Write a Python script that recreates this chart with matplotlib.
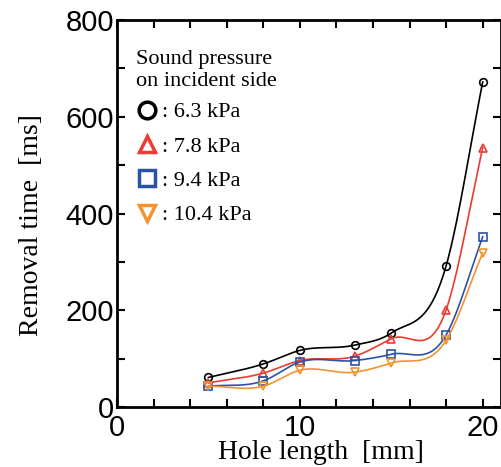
import numpy as np
import matplotlib.pyplot as plt
from matplotlib.lines import Line2D
from matplotlib.ticker import MultipleLocator

# data
hole_length = [5, 8, 10, 13, 15, 18, 20]
t_63 = [61, 89, 117, 128, 153, 292, 672]
t_78 = [50, 70, 96, 105, 141, 201, 536]
t_94 = [43, 54, 93, 96, 109, 149, 352]
t_104 = [43, 43, 76, 72, 91, 138, 319]

series = [t_63, t_78, t_94, t_104]
labels = [': 6.3 kPa', ': 7.8 kPa', ': 9.4 kPa', ': 10.4 kPa']
colors = ['#000000', '#ec3b32', '#2c52a6', '#f3932f']
markers = ['o', '^', 's', 'v']


def smooth(x, y, n=40):
    # cubic hermite through the points (catmull-rom like), only for drawing
    x = np.asarray(x, float)
    y = np.asarray(y, float)
    sec = np.diff(y) / np.diff(x)
    m = np.empty_like(y)
    m[0], m[-1] = sec[0], sec[-1]
    h = np.diff(x)
    m[1:-1] = (sec[:-1] * h[1:] + sec[1:] * h[:-1]) / (h[:-1] + h[1:])
    xs_all, ys_all = [], []
    for i in range(len(x) - 1):
        t = np.linspace(0, 1, n)
        h00 = 2 * t**3 - 3 * t**2 + 1
        h10 = t**3 - 2 * t**2 + t
        h01 = -2 * t**3 + 3 * t**2
        h11 = t**3 - t**2
        xs_all.append(x[i] + t * h[i])
        ys_all.append(h00 * y[i] + h10 * h[i] * m[i] + h01 * y[i + 1]
                      + h11 * h[i] * m[i + 1])
    return np.concatenate(xs_all), np.concatenate(ys_all)


fig = plt.figure(figsize=(5.02, 4.67), dpi=100)
ax = fig.add_axes([0.233, 0.1285, 0.765, 0.8285])

for ys, col, mk in zip(series, colors, markers):
    xs, ss = smooth(hole_length, ys)
    ax.plot(xs, ss, color=col, lw=1.2)
    ax.plot(hole_length, ys, ls='none', marker=mk, ms=5.5, mfc='none',
            mec=col, mew=1.2)

ax.set_xlim(0, 21)
ax.set_ylim(0, 800)
ax.xaxis.set_major_locator(MultipleLocator(10))
ax.xaxis.set_minor_locator(MultipleLocator(2))
ax.yaxis.set_major_locator(MultipleLocator(200))
ax.yaxis.set_minor_locator(MultipleLocator(100))
ax.tick_params(which='both', direction='in', top=True, right=True,
               length=5.5, width=1.5)
ax.tick_params(axis='x', pad=5)
ax.tick_params(axis='y', pad=2)
for lab in ax.get_xticklabels() + ax.get_yticklabels():
    lab.set_family('Liberation Sans')
    lab.set_fontsize(21)
for sp in ax.spines.values():
    sp.set_linewidth(2)

ax.set_xlabel('Hole length  [mm]', family='Liberation Serif', fontsize=20)
ax.xaxis.set_label_coords(0.53, -0.085)
ax.set_ylabel('Removal time  [ms]', family='Liberation Serif', fontsize=20)
ax.yaxis.set_label_coords(-0.19, 0.47)

handles = [Line2D([], [], ls='none', marker=mk, ms=12, mfc='none', mec=col,
                  mew=2.5) for col, mk in zip(colors, markers)]
leg = ax.legend(handles, labels, title='Sound pressure\non incident side',
                loc='upper left', bbox_to_anchor=(0.05, 0.923), frameon=False,
                prop={'family': 'Liberation Serif', 'size': 16},
                title_fontproperties={'family': 'Liberation Serif', 'size': 16},
                alignment='left', handlelength=1.0, handletextpad=0.15,
                labelspacing=0.62, borderpad=0, borderaxespad=0)
leg._legend_box.sep = 8

fig.savefig('out.png', dpi=100)
